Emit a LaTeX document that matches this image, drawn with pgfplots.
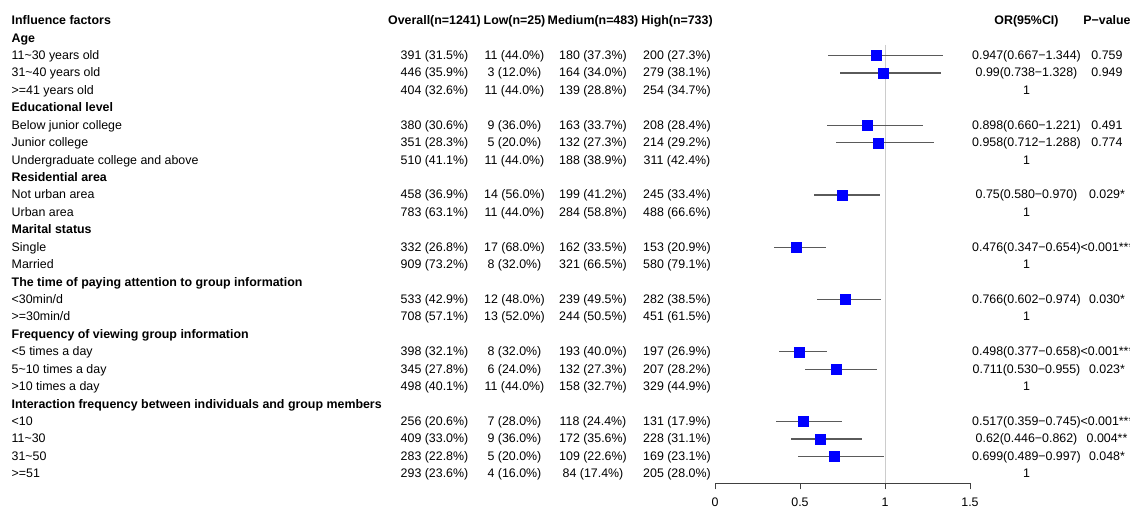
\documentclass[border=0pt]{standalone}
\usepackage{fontspec}
\setmainfont{Liberation Sans}
\usepackage{pgfplots}
\usepackage{pgfplotstable}
\pgfplotsset{compat=1.18}

\pgfplotstableread{
row or lo hi
2 0.947 0.667 1.344
3 0.99 0.738 1.328
6 0.898 0.660 1.221
7 0.958 0.712 1.288
10 0.75 0.580 0.970
13 0.476 0.347 0.654
16 0.766 0.602 0.974
19 0.498 0.377 0.658
20 0.711 0.530 0.955
23 0.517 0.359 0.745
24 0.62 0.446 0.862
25 0.699 0.489 0.997
}\forestdata

\newcommand\fs{\fontsize{12.4}{14}\selectfont}
% row, label, overall, low, medium, high, OR, p
\newcommand\Row[8]{%
  \pgfmathsetmacro\yy{486-17.43*#1}%
  \node[anchor=mid west,inner sep=0pt,font=\fs] at (11.5pt,\yy pt) {#2};
  \node[anchor=mid,inner sep=0pt,font=\fs] at (434.5pt,\yy pt) {#3};
  \node[anchor=mid,inner sep=0pt,font=\fs] at (514.5pt,\yy pt) {#4};
  \node[anchor=mid,inner sep=0pt,font=\fs] at (593pt,\yy pt) {#5};
  \node[anchor=mid,inner sep=0pt,font=\fs] at (677pt,\yy pt) {#6};
  \node[anchor=mid,inner sep=0pt,font=\fs] at (1026.5pt,\yy pt) {#7};
  \node[anchor=mid,inner sep=0pt,font=\fs] at (1107pt,\yy pt) {#8};
}
\newcommand\Group[2]{%
  \pgfmathsetmacro\yy{486-17.43*#1}%
  \node[anchor=mid west,inner sep=0pt,font=\fs\bfseries] at (11.5pt,\yy pt) {#2};
}

\begin{document}
\begin{tikzpicture}
\useasboundingbox (0pt,0pt) rectangle (1130pt,508pt);
\begin{axis}[
  at={(715pt,24.7pt)}, anchor=south west,
  scale only axis, width=255pt, height=483.3pt,
  xmin=0, xmax=1.5, ymin=-26.54, ymax=1.188,
  axis x line*=bottom, axis y line=none,
  x axis line style={draw=black!75, line width=0.8pt},
  xtick={0,0.5,1,1.5}, xticklabels={0,0.5,1,1.5},
  tick align=outside, major tick length=6pt,
  tick style={draw=black!75, line width=0.8pt},
  tick label style={font=\fs},
  xticklabel style={yshift=-5pt},
  /pgf/number format/assume math mode=true,
  clip=false,
]
\addplot[draw=black!20, line width=0.8pt, forget plot] coordinates {(1,-1.39) (1,-26.54)};
\addplot[only marks, mark=square*, mark size=5pt, color=blue,
  mark options={draw=blue, fill=blue},
  error bars/.cd, x dir=both, x explicit, error mark=none,
  error bar style={draw={rgb,255:red,90;green,90;blue,90}, line width=1.2pt, solid}]
  table[x=or, y expr=-\thisrow{row},
        x error plus expr=\thisrow{hi}-\thisrow{or},
        x error minus expr=\thisrow{or}-\thisrow{lo}] {\forestdata};
\end{axis}

\pgfmathsetmacro\yy{486}
\node[anchor=mid west,inner sep=0pt,font=\fs\bfseries] at (11.5pt,\yy pt) {Influence factors};
\node[anchor=mid,inner sep=0pt,font=\fs\bfseries] at (434.5pt,\yy pt) {Overall(n=1241)};
\node[anchor=mid,inner sep=0pt,font=\fs\bfseries] at (514.5pt,\yy pt) {Low(n=25)};
\node[anchor=mid,inner sep=0pt,font=\fs\bfseries] at (593pt,\yy pt) {Medium(n=483)};
\node[anchor=mid,inner sep=0pt,font=\fs\bfseries] at (677pt,\yy pt) {High(n=733)};
\node[anchor=mid,inner sep=0pt,font=\fs\bfseries] at (1026.5pt,\yy pt) {OR(95\%CI)};
\node[anchor=mid,inner sep=0pt,font=\fs\bfseries] at (1107pt,\yy pt) {P−value};

\Group{1}{Age}
\Row{2}{11\textasciitilde30 years old}{391 (31.5\%)}{11 (44.0\%)}{180 (37.3\%)}{200 (27.3\%)}{0.947(0.667−1.344)}{0.759}
\Row{3}{31\textasciitilde40 years old}{446 (35.9\%)}{3 (12.0\%)}{164 (34.0\%)}{279 (38.1\%)}{0.99(0.738−1.328)}{0.949}
\Row{4}{>=41 years old}{404 (32.6\%)}{11 (44.0\%)}{139 (28.8\%)}{254 (34.7\%)}{1}{}
\Group{5}{Educational level}
\Row{6}{Below junior college}{380 (30.6\%)}{9 (36.0\%)}{163 (33.7\%)}{208 (28.4\%)}{0.898(0.660−1.221)}{0.491}
\Row{7}{Junior college}{351 (28.3\%)}{5 (20.0\%)}{132 (27.3\%)}{214 (29.2\%)}{0.958(0.712−1.288)}{0.774}
\Row{8}{Undergraduate college and above}{510 (41.1\%)}{11 (44.0\%)}{188 (38.9\%)}{311 (42.4\%)}{1}{}
\Group{9}{Residential area}
\Row{10}{Not urban area}{458 (36.9\%)}{14 (56.0\%)}{199 (41.2\%)}{245 (33.4\%)}{0.75(0.580−0.970)}{0.029*}
\Row{11}{Urban area}{783 (63.1\%)}{11 (44.0\%)}{284 (58.8\%)}{488 (66.6\%)}{1}{}
\Group{12}{Marital status}
\Row{13}{Single}{332 (26.8\%)}{17 (68.0\%)}{162 (33.5\%)}{153 (20.9\%)}{0.476(0.347−0.654)}{<0.001***}
\Row{14}{Married}{909 (73.2\%)}{8 (32.0\%)}{321 (66.5\%)}{580 (79.1\%)}{1}{}
\Group{15}{The time of paying attention to group information}
\Row{16}{<30min/d}{533 (42.9\%)}{12 (48.0\%)}{239 (49.5\%)}{282 (38.5\%)}{0.766(0.602−0.974)}{0.030*}
\Row{17}{>=30min/d}{708 (57.1\%)}{13 (52.0\%)}{244 (50.5\%)}{451 (61.5\%)}{1}{}
\Group{18}{Frequency of viewing group information}
\Row{19}{<5 times a day}{398 (32.1\%)}{8 (32.0\%)}{193 (40.0\%)}{197 (26.9\%)}{0.498(0.377−0.658)}{<0.001***}
\Row{20}{5\textasciitilde10 times a day}{345 (27.8\%)}{6 (24.0\%)}{132 (27.3\%)}{207 (28.2\%)}{0.711(0.530−0.955)}{0.023*}
\Row{21}{>10 times a day}{498 (40.1\%)}{11 (44.0\%)}{158 (32.7\%)}{329 (44.9\%)}{1}{}
\Group{22}{Interaction frequency between individuals and group members}
\Row{23}{<10}{256 (20.6\%)}{7 (28.0\%)}{118 (24.4\%)}{131 (17.9\%)}{0.517(0.359−0.745)}{<0.001***}
\Row{24}{11\textasciitilde30}{409 (33.0\%)}{9 (36.0\%)}{172 (35.6\%)}{228 (31.1\%)}{0.62(0.446−0.862)}{0.004**}
\Row{25}{31\textasciitilde50}{283 (22.8\%)}{5 (20.0\%)}{109 (22.6\%)}{169 (23.1\%)}{0.699(0.489−0.997)}{0.048*}
\Row{26}{>=51}{293 (23.6\%)}{4 (16.0\%)}{84 (17.4\%)}{205 (28.0\%)}{1}{}
\end{tikzpicture}
\end{document}
